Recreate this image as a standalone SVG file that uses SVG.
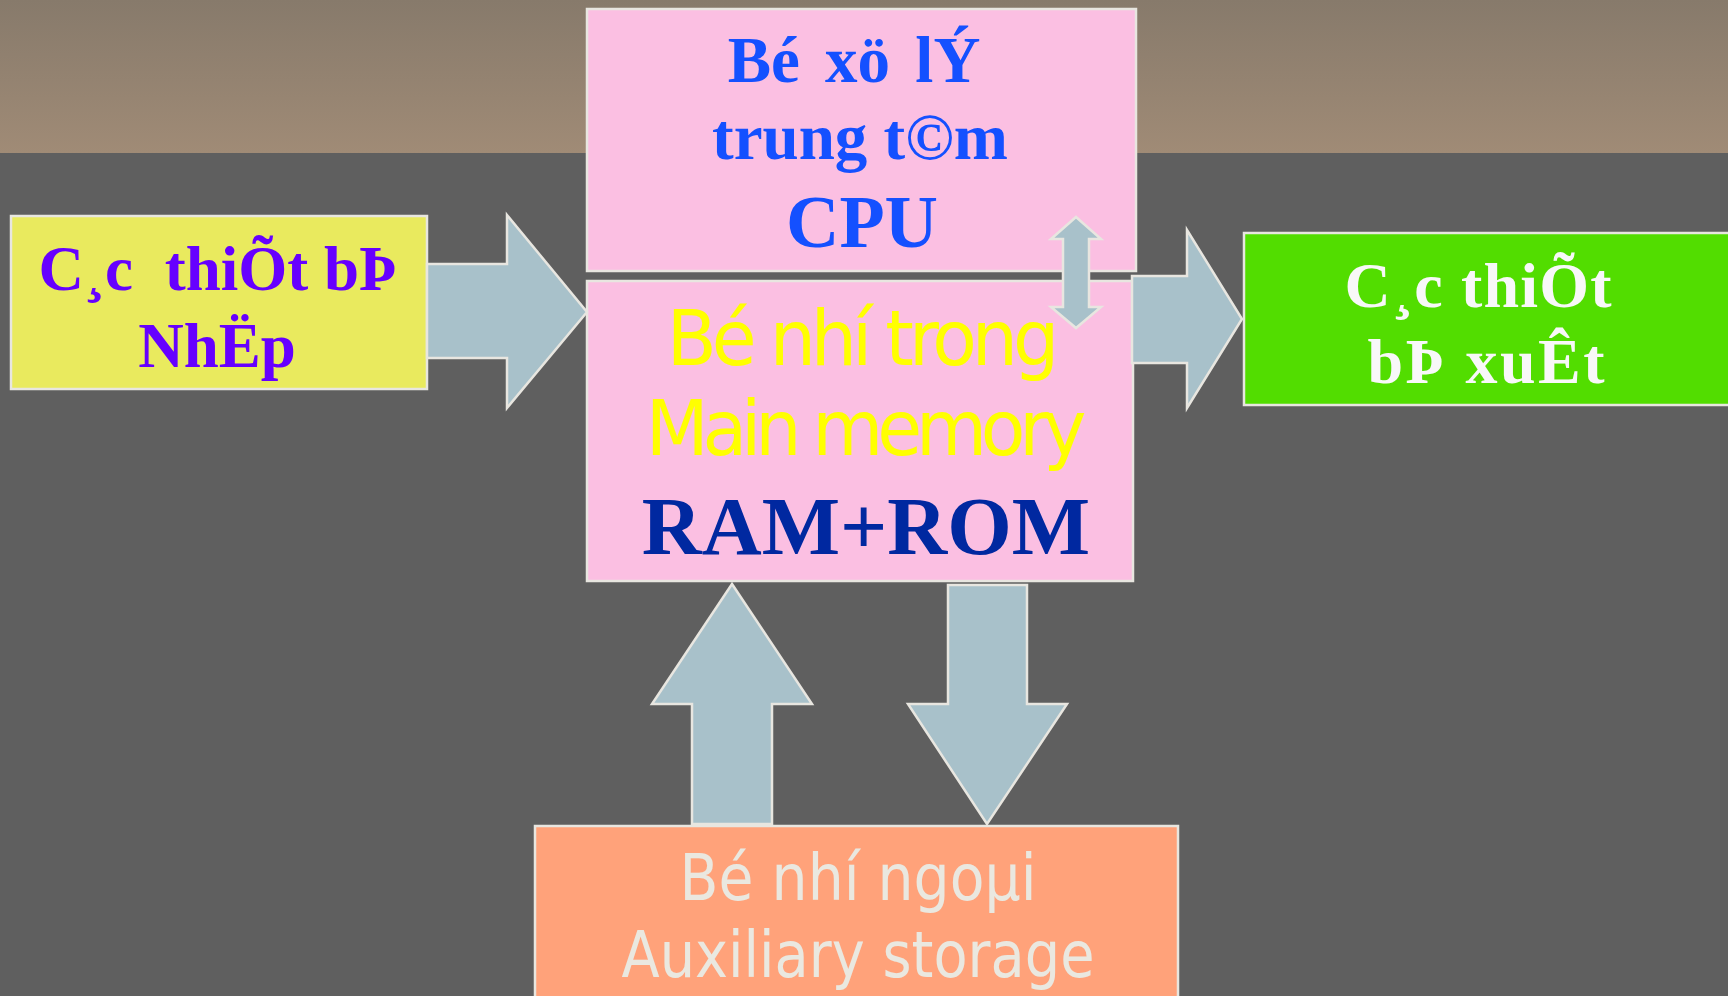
<svg xmlns="http://www.w3.org/2000/svg" width="1728" height="996" viewBox="0 0 1728 996">
<defs>
<linearGradient id="band" x1="0" y1="0" x2="0" y2="1">
<stop offset="0" stop-color="#877A6B"/>
<stop offset="1" stop-color="#A08B76"/>
</linearGradient>
<style>
.box{stroke:#E8E6E0;stroke-width:2.5}
.arrow{fill:#A8C1CA;stroke:#E8E6E0;stroke-width:2.5;stroke-linejoin:miter}
.serif{font-family:"Liberation Serif","Times New Roman",serif;font-weight:bold;text-anchor:middle}
.sans{font-family:"DejaVu Sans","Noto Sans",sans-serif;text-anchor:middle}
</style>
</defs>
<rect x="0" y="0" width="1728" height="996" fill="#5F5F5F"/>
<rect x="0" y="0" width="1728" height="153" fill="url(#band)"/>

<g id="cpu">
<rect class="box" x="587" y="9" width="549" height="262" fill="#FBBFE2"/>
<text class="serif" x="854" y="82" font-size="65" fill="#1450FF" word-spacing="9">Bé xö lÝ</text>
<text class="serif" x="860" y="159" font-size="65" fill="#1450FF">trung t©m</text>
<text class="serif" x="862" y="247" font-size="74" fill="#1450FF">CPU</text>
</g>

<g id="main-memory">
<rect class="box" x="587" y="281" width="546" height="300" fill="#FBBFE2"/>
<text class="sans" transform="translate(863,365) scale(0.96,1)" x="0" y="0" font-size="76" fill="#FFFF00" textLength="409" lengthAdjust="spacing">Bé nhí trong</text>
<text class="sans" transform="translate(866,455) scale(0.96,1)" x="0" y="0" font-size="76" fill="#FFFF00" textLength="459" lengthAdjust="spacing">Main memory</text>
<text class="serif" x="866" y="554" font-size="83" fill="#0028A0">RAM+ROM</text>
</g>

<g id="input-devices">
<rect class="box" x="11" y="216" width="416" height="173" fill="#E9EA5E"/>
<text class="serif" x="218" y="290" font-size="63" fill="#6600FF">C¸c <tspan dx="16">thiÕt bÞ</tspan></text>
<text class="serif" x="217" y="367" font-size="63" fill="#6600FF">NhËp</text>
</g>

<g id="output-devices">
<rect class="box" x="1244" y="233" width="490" height="172" fill="#52DD00"/>
<text class="serif" x="1478" y="307" font-size="64" fill="#F8F8F8" textLength="267" lengthAdjust="spacing">C¸c thiÕt</text>
<text class="serif" x="1486" y="383" font-size="64" fill="#F8F8F8" textLength="237" lengthAdjust="spacing">bÞ xuÊt</text>
</g>

<g id="auxiliary-storage">
<rect class="box" x="535" y="826" width="643" height="190" fill="#FFA27A"/>
<text class="sans" x="858" y="900" font-size="64" fill="#EAE8E0" textLength="357" lengthAdjust="spacingAndGlyphs">Bé nhí ngoµi</text>
<text class="sans" x="858" y="977" font-size="64" fill="#EAE8E0" textLength="473" lengthAdjust="spacingAndGlyphs">Auxiliary storage</text>
</g>

<g id="connectors">
<polygon class="arrow" points="427,264 507,264 507,215 587,312 507,408 507,358 427,358"/>
<polygon class="arrow" points="1132,276 1187,276 1187,230 1242,319 1187,408 1187,363 1132,363"/>
<polygon class="arrow" points="1076,217 1101,239 1089,239 1089,307 1101,307 1076,328 1051,307 1063,307 1063,239 1051,239"/>
<polygon class="arrow" points="732,584 812,704 772,704 772,824 692,824 692,704 652,704"/>
<polygon class="arrow" points="948,585 1027,585 1027,704 1067,704 987,824 908,704 948,704"/>
</g>
</svg>
